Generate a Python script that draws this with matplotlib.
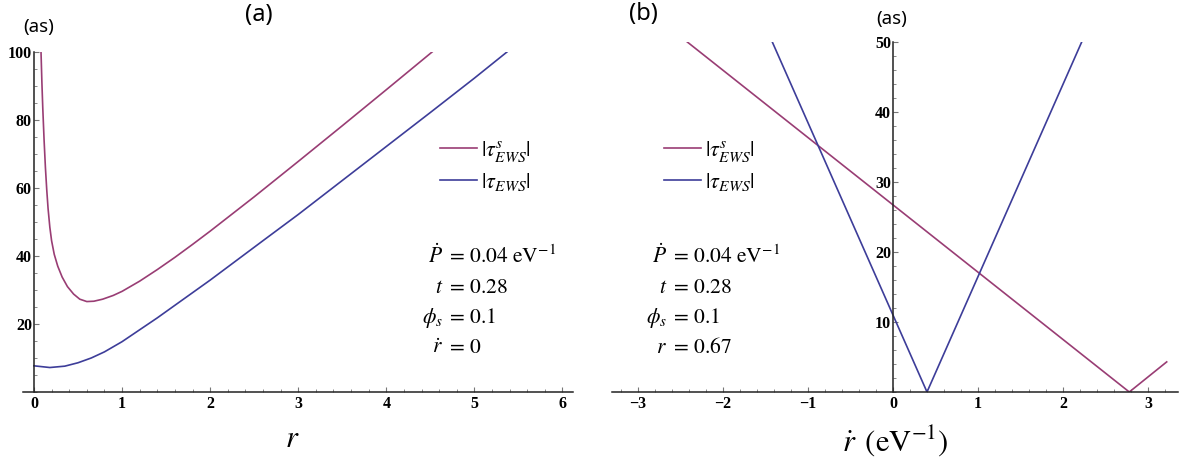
import numpy as np
import matplotlib
matplotlib.use("Agg")
import matplotlib.pyplot as plt
from matplotlib.ticker import MultipleLocator

plt.rcParams['mathtext.fontset'] = 'stix'

# ---- data ----
# panel (a): delay (as) vs r
r_s = [0.08, 0.09, 0.10, 0.115, 0.13, 0.145, 0.16, 0.18, 0.20, 0.23, 0.27, 0.32,
       0.38, 0.45, 0.52, 0.60, 0.68, 0.78, 0.9, 1.0, 1.2, 1.4, 1.6, 1.8, 2.0,
       2.5, 3.0, 3.5, 4.0, 4.52]
tau_s_a = [100, 91, 83.5, 74, 66, 59.5, 54, 48.5, 44.5, 40.5, 37.0, 33.8,
           31.0, 28.8, 27.3, 26.6, 26.7, 27.3, 28.4, 29.6, 32.6, 36.0, 39.6, 43.4, 47.3,
           57.4, 67.8, 78.3, 88.9, 100]
r_b = [0.0, 0.18, 0.35, 0.5, 0.65, 0.8, 1.0, 1.2, 1.4, 1.6, 1.8, 2.0, 2.3, 2.6,
       3.0, 3.5, 4.0, 4.5, 5.0, 5.37]
tau_a = [7.7, 7.2, 7.6, 8.6, 10.0, 11.8, 14.8, 18.3, 21.8, 25.5, 29.2, 32.9, 38.7, 44.5,
         52.2, 62.2, 72.2, 82.2, 92.3, 100]

# panel (b): delay (as) vs r-dot (eV^-1)
rdot_s = [-2.42, 2.78, 3.22]
tau_s_b = [50, 0, 4.3]
rdot_b = [-1.42, 0.40, 2.22]
tau_b = [50, 0, 50]

xt_a = [0, 1, 2, 3, 4, 5, 6]
yt_a = [20, 40, 60, 80, 100]
xt_b = [-3, -2, -1, 0, 1, 2, 3]
yt_b = [10, 20, 30, 40, 50]

lab_s = r'$|\tau_{EWS}^{s}|$'
lab_b = r'$|\tau_{EWS}|$'
params_lhs = [r'$\dot{P}$', r'$t$', r'$\phi_s$']
params_rhs = [r'$=\,0.04\ \mathrm{eV}^{-1}$', r'$=\,0.28$', r'$=\,0.1$']
last_a = (r'$\dot{r}$', r'$=\,0$')
last_b = (r'$r$', r'$=\,0.67$')

c_purple = '#993D74'
c_blue = '#3D3D99'

W, H = 1180, 459
fig = plt.figure(figsize=(W / 100, H / 100), dpi=100)

def fx(px):
    return px / W

def fy(py):
    return 1 - py / H

def num(v):
    return str(v).replace('-', '\u2212')

def style_axis(ax, xt, yt, xminor, yminor):
    ax.spines['top'].set_visible(False)
    ax.spines['right'].set_visible(False)
    ax.spines['left'].set_position(('data', 0))
    for s in ('left', 'bottom'):
        ax.spines[s].set_linewidth(1.1)
        ax.spines[s].set_color('#222222')
    tfont = dict(fontfamily='Liberation Serif', fontweight='bold', fontsize=11.5)
    ax.set_xticks(xt, [num(v) for v in xt], **tfont)
    ax.set_yticks(yt, [num(v) for v in yt], **tfont)
    ax.xaxis.set_minor_locator(MultipleLocator(xminor))
    ax.yaxis.set_minor_locator(MultipleLocator(yminor))
    ax.tick_params(which='both', direction='in', color='#777777')
    ax.tick_params(which='major', length=3.5, width=0.8)
    ax.tick_params(which='minor', length=2, width=0.6)
    ax.tick_params(axis='y', pad=1.5)
    ax.tick_params(axis='x', pad=3)

leg_kw = dict(bbox_transform=fig.transFigure, frameon=False, fontsize=16,
              handlelength=1.65, handletextpad=0.2, labelspacing=0.3,
              borderpad=0, borderaxespad=0, loc='center left')

# ---- panel (a) ----
ax1 = fig.add_axes([fx(23.4), fy(392), fx(573) - fx(23.4), fy(52) - fy(392)])
ax1.plot(r_s, tau_s_a, color=c_purple, lw=1.2, label=lab_s)
ax1.plot(r_b, tau_a, color=c_blue, lw=1.2, label=lab_b)
ax1.set_xlim(-0.12, 6.12)
ax1.set_ylim(0, 100)
style_axis(ax1, xt_a, yt_a, 0.2, 5)
ax1.set_xlabel(r'$r$', fontsize=22)
ax1.xaxis.set_label_coords((292 - 23.4) / (573 - 23.4), -0.095)
ax1.legend(bbox_to_anchor=(fx(440), fy(166)), **leg_kw)

# ---- panel (b) ----
ax2 = fig.add_axes([fx(612), fy(392), fx(1178) - fx(612), fy(42) - fy(392)])
ax2.plot(rdot_s, tau_s_b, color=c_purple, lw=1.2, label=lab_s)
ax2.plot(rdot_b, tau_b, color=c_blue, lw=1.2, label=lab_b)
ax2.set_xlim(-3.306, 3.353)
ax2.set_ylim(0, 50)
style_axis(ax2, xt_b, yt_b, 0.2, 2)
ax2.set_xlabel(r'$\dot{r}\ \,(\mathrm{eV}^{-1})$', fontsize=22)
ax2.xaxis.set_label_coords((895 - 612) / (1178 - 612), -0.09)
ax2.legend(bbox_to_anchor=(fx(664), fy(166)), **leg_kw)

# ---- parameter annotations ----
baselines = [263, 293, 323, 353]
for eq_x, last in ((446, last_a), (670, last_b)):
    lhs = params_lhs + [last[0]]
    rhs = params_rhs + [last[1]]
    for yb, l, rr in zip(baselines, lhs, rhs):
        fig.text(fx(eq_x - 3), fy(yb), l, ha='right', va='baseline', fontsize=15.5)
        fig.text(fx(eq_x), fy(yb), rr, ha='left', va='baseline', fontsize=15.5)

# ---- panel labels and units ----
fig.text(fx(259), fy(15), '(a)', ha='center', va='center', fontsize=17,
         family='Noto Sans')
fig.text(fx(643), fy(14), '(b)', ha='center', va='center', fontsize=17,
         family='Noto Sans')
fig.text(fx(39), fy(27), '(as)', ha='center', va='center', fontsize=13.5,
         family='Noto Sans')
fig.text(fx(892), fy(19), '(as)', ha='center', va='center', fontsize=13.5,
         family='Noto Sans')

fig.savefig('out.png', dpi=100)
